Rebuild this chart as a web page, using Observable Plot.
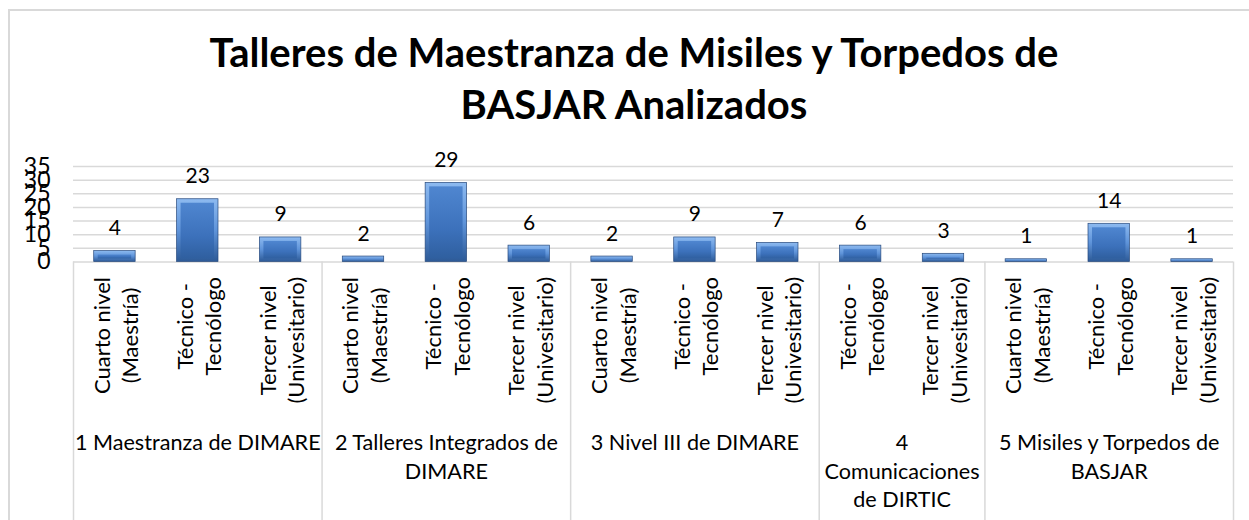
<!DOCTYPE html>
<html>
<head>
<meta charset="utf-8">
<script src="https://cdn.jsdelivr.net/npm/d3@7"></script>
<script src="https://cdn.jsdelivr.net/npm/@observablehq/plot@0.6"></script>
<style>
  html, body { margin: 0; padding: 0; background: #fff; }
  body { width: 1249px; height: 520px; overflow: hidden; position: relative; font-family: Lato, "Open Sans", sans-serif; }
  #frame { position: absolute; left: 8px; top: 9px; width: 1260px; height: 600px; border: 2px solid #d9d9d9; box-sizing: border-box; pointer-events: none; }
  #title { position: relative; height: 140px; box-sizing: border-box; padding-top: 26px; padding-left: 19px; text-align: center; font-weight: 700; font-size: 40px; line-height: 52px; color: #000; }
  #chart svg { display: block; }
</style>
</head>
<body>
<div id="frame"></div>
<div id="title">Talleres de Maestranza de Misiles y Torpedos de<br>BASJAR Analizados</div>
<div id="chart"></div>
<script>
// ---- data ----
const groupNames = [
  "1 Maestranza de DIMARE",
  "2 Talleres Integrados de\nDIMARE",
  "3 Nivel III de DIMARE",
  "4\nComunicaciones\nde DIRTIC",
  "5 Misiles y Torpedos de\nBASJAR"
];
const levelNames = [
  "Cuarto nivel\n(Maestría)",
  "Técnico -\nTecnólogo",
  "Tercer nivel\n(Univesitario)"
];
// one entry per bar, in order
const barGroup = [0, 0, 0, 1, 1, 1, 2, 2, 2, 3, 3, 4, 4, 4];
const barLevel = [0, 1, 2, 0, 1, 2, 0, 1, 2, 1, 2, 0, 1, 2];
const barValues = [4, 23, 9, 2, 29, 6, 2, 9, 7, 6, 3, 1, 14, 1];
const yTicks = [0, 5, 10, 15, 20, 25, 30, 35];

// ---- table ----
const bars = barValues.map((v, i) => ({
  i, value: v, group: barGroup[i], level: barLevel[i], label: levelNames[barLevel[i]]
}));
const groups = groupNames.map((name, g) => {
  const idx = bars.filter(b => b.group === g).map(b => b.i);
  return { name, start: Math.min(...idx), end: Math.max(...idx) + 1 };
});
const boundaries = [0, ...groups.map(g => g.end)];

// ---- layout ----
const W = 1249, H = 380;
const mTop = 26, mBottom = 258.5, mLeft = 73, mRight = 16;
const frameH = H - mTop - mBottom;
const FONT = "Lato, 'Open Sans', sans-serif";
const rotSize = 22;

const ctx = document.createElement("canvas").getContext("2d");
ctx.font = `${rotSize}px Lato`;
const halfW = levelNames.map(s => Math.max(...s.split("\n").map(t => ctx.measureText(t).width)) / 2);

const rotMarks = levelNames.map((name, L) =>
  Plot.text(bars.filter(b => b.level === L), {
    x: b => b.i + 0.5,
    text: "label",
    frameAnchor: "bottom",
    rotate: -90,
    textAnchor: "middle",
    lineAnchor: "middle",
    lineHeight: 1.3,
    dy: 15 + halfW[L],
    fontSize: rotSize,
    fill: "#000"
  })
);

const chart = Plot.plot({
  width: W, height: H,
  marginTop: mTop, marginBottom: mBottom, marginLeft: mLeft, marginRight: mRight,
  style: { fontFamily: FONT, background: "transparent", overflow: "visible" },
  x: { type: "linear", domain: [0, bars.length], axis: null },
  y: { domain: [0, 35], axis: null },
  marks: [
    Plot.ruleY(yTicks, { y: d => d, x1: 0, x2: bars.length, stroke: "#d9d9d9", strokeWidth: 1.5 }),
    Plot.axisY(yTicks, { tickSize: 0, tickPadding: 23, fontSize: 23, label: null, fill: "#000", textAnchor: "end" }),
    Plot.ruleX(boundaries, { x: d => d, insetTop: frameH, insetBottom: -mBottom, stroke: "#d9d9d9", strokeWidth: 1.5 }),
    Plot.rectY(bars, { x1: b => b.i + 0.25, x2: b => b.i + 0.75, y1: 0, y2: "value", fill: "url(#barEdge)", stroke: "#27497c", strokeWidth: 0.7 }),
    Plot.rectY(bars.filter(b => b.value >= 3), { x1: b => b.i + 0.25, x2: b => b.i + 0.75, y1: 0, y2: "value",
      insetLeft: 4, insetRight: 4, insetTop: 4, insetBottom: 3, fill: "url(#barBody)" }),
    Plot.text(bars, { x: b => b.i + 0.5, y: "value", text: b => String(b.value), lineAnchor: "bottom", dy: -16, fontSize: 21, fill: "#000" }),
    ...rotMarks,
    Plot.text(groups, { x: g => (g.start + g.end) / 2, text: "name", frameAnchor: "bottom", lineAnchor: "top", dy: 168, lineHeight: 1.32, fontSize: 21.6, fill: "#000" })
  ]
});

const svg = d3.select(chart);
const defs = svg.insert("defs", ":first-child");
const edge = defs.append("linearGradient").attr("id", "barEdge").attr("x1", 0).attr("y1", 0).attr("x2", 0).attr("y2", 1);
edge.append("stop").attr("offset", "0%").attr("stop-color", "#8dbaf0");
edge.append("stop").attr("offset", "50%").attr("stop-color", "#5f94da");
edge.append("stop").attr("offset", "100%").attr("stop-color", "#2d5a97");
const body = defs.append("linearGradient").attr("id", "barBody").attr("x1", 0).attr("y1", 0).attr("x2", 0).attr("y2", 1);
body.append("stop").attr("offset", "0%").attr("stop-color", "#4f86d0");
body.append("stop").attr("offset", "60%").attr("stop-color", "#3c71bb");
body.append("stop").attr("offset", "100%").attr("stop-color", "#2f5f9f");

document.getElementById("chart").appendChild(chart);
</script>
</body>
</html>
